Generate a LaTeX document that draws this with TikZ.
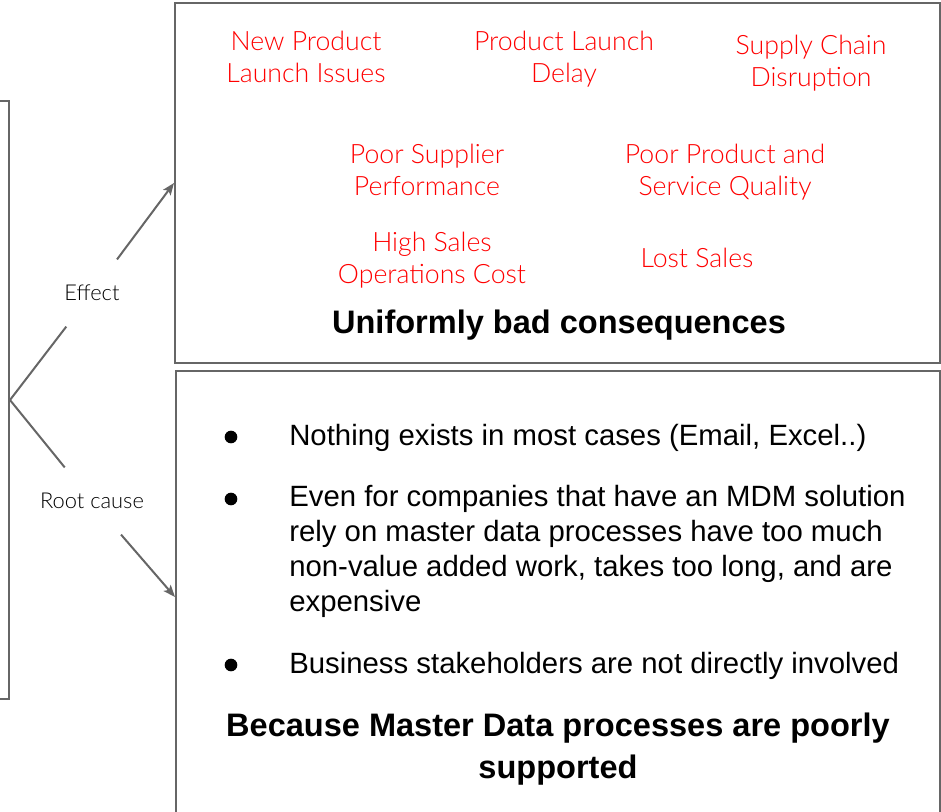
\documentclass[tikz,border=0pt]{standalone}
\usepackage{fontspec}
\setmainfont{Liberation Sans}
\newfontfamily\lightfont{Lato Light}
\usetikzlibrary{arrows.meta}
\definecolor{linegray}{HTML}{666666}
\tikzset{
    panel/.style={draw=linegray, line width=1.5pt, inner sep=0pt},
    link/.style={draw=linegray, line width=1.5pt},
    tag/.style={font=\lightfont\fontsize{16.4}{19}\selectfont, minimum height=50pt, inner sep=1pt},
    conseq/.style={text=red, align=center, font=\lightfont\fontsize{20}{24}\selectfont},
    heading/.style={align=center, font=\bfseries\fontsize{24.4}{31.5}\selectfont},
    item/.style={anchor=west, align=left, font=\fontsize{22}{26.25}\selectfont},
    dot/.style={circle, fill=black, minimum size=9.5pt, inner sep=0pt}
}

\begin{document}
\begin{tikzpicture}[x=0.75pt, y=-0.75pt]
    \useasboundingbox (0,0) rectangle (941,811);
    \clip (0,0) rectangle (941,811);

    % the three panels
    \node[panel, minimum width=231.75pt, minimum height=448.5pt] (left) at (-145.5,400) {};
    \node[panel, minimum width=573.75pt, minimum height=270pt] (top) at (557.5,183) {};
    \node[panel, minimum width=573pt, minimum height=339pt] (bottom) at (558,597) {};

    % branch labels
    \node[tag] (effect) at (92,293) {Effect};
    \node[tag] (cause) at (92,501) {Root cause};

    \draw[link] (left.east) -- (effect);
    \draw[link, -{Stealth[length=9pt, width=7pt, inset=2pt]}] (effect) -- (top.west);
    \draw[link] (left.east) -- (cause);
    \draw[link, -{Stealth[length=9pt, width=7pt, inset=2pt]}] (cause) -- (bottom.west);

    % consequences
    \node[conseq] (launch) at (306,57) {New Product\\Launch Issues};
    \node[conseq] (delay) at (564,59) {Product Launch\\Delay};
    \node[conseq] (supply) at (811,63) {Supply Chain\\Disruption};
    \node[conseq] (supplier) at (427,170) {Poor Supplier\\Performance};
    \node[conseq] (quality) at (725,172) {Poor Product and\\Service Quality};
    \node[conseq] (salescost) at (432,260) {High Sales\\Operations Cost};
    \node[conseq] (lost) at (697,258) {Lost Sales};
    \node[heading] (uniform) at (559,325) {Uniformly bad consequences};

    % root causes
    \node[dot] (dotA) at (231,437) {};
    \node[dot] (dotB) at (231,499) {};
    \node[dot] (dotC) at (231,665) {};
    \node[item] (itemA) at (284.6,438) {Nothing exists in most cases (Email, Excel..)};
    \node[item] (itemB) at (284.6,551.5) {Even for companies that have an MDM solution\\rely on master data processes have too much\\non-value added work, takes too long, and are\\expensive};
    \node[item] (itemC) at (284.6,666) {Business stakeholders are not directly involved};
    \node[heading] (because) at (558,749) {Because Master Data processes are poorly\\supported};
\end{tikzpicture}
\end{document}
